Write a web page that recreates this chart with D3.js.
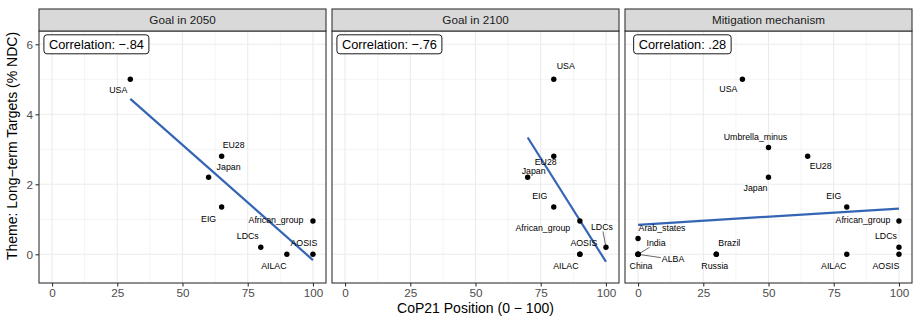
<!DOCTYPE html>
<html>
<head>
<meta charset="utf-8">
<script src="https://cdn.jsdelivr.net/npm/d3@7"></script>
<style>
  body { margin: 0; background: #fff; }
  text { font-family: "Liberation Sans", Arial, Helvetica, sans-serif; }
</style>
</head>
<body>
<svg id="chart"></svg>
<script>
// Data
var panelTitles = ["Goal in 2050", "Goal in 2100", "Mitigation mechanism"];
var corrLabels = ["Correlation: \u2212.84", "Correlation: \u2212.76", "Correlation: .28"];

var goal2050Names = ["USA", "EU28", "Japan", "EIG", "African_group", "LDCs", "AOSIS", "AILAC"];
var goal2050X = [30, 65, 60, 65, 100, 80, 100, 90];
var goal2050Y = [5, 2.8, 2.2, 1.35, 0.95, 0.2, 0, 0];

var goal2100Names = ["USA", "EU28", "Japan", "EIG", "African_group", "LDCs", "AOSIS", "AILAC"];
var goal2100X = [80, 80, 70, 80, 90, 100, 90, 90];
var goal2100Y = [5, 2.8, 2.2, 1.35, 0.95, 0.2, 0, 0];

var mitigationNames = ["USA", "Umbrella_minus", "EU28", "Japan", "EIG", "African_group", "LDCs", "AOSIS",
                       "AILAC", "Arab_states", "India", "ALBA", "China", "Brazil", "Russia"];
var mitigationX = [40, 50, 65, 50, 80, 100, 100, 100, 80, 0, 0, 0, 0, 30, 30];
var mitigationY = [5, 3.05, 2.8, 2.2, 1.35, 0.95, 0.2, 0, 0, 0.45, 0, 0, 0, 0, 0];

var xTicks = [0, 25, 50, 75, 100];
var xMinor = [12.5, 37.5, 62.5, 87.5];
var yTicks = [0, 2, 4, 6];
var yMinor = [1, 3, 5];

var panelData = [
  {names: goal2050Names, x: goal2050X, y: goal2050Y},
  {names: goal2100Names, x: goal2100X, y: goal2100Y},
  {names: mitigationNames, x: mitigationX, y: mitigationY}
];

// label nudges (px) per panel, like ggrepel placed them; third value = draw segment
var labelNudge = [
  {USA: [-12, 11], EU28: [12, -11], Japan: [20, -10], EIG: [-13, 12], African_group: [-37, -1],
   LDCs: [-13, -11], AOSIS: [-9, -11], AILAC: [-13, 12]},
  {USA: [12, -13], EU28: [-8, 6], Japan: [6, -6], EIG: [-14, -11], African_group: [-37, 7],
   LDCs: [-4, -20, 1], AOSIS: [4, -11], AILAC: [-14, 12]},
  {USA: [-14, 10], Umbrella_minus: [-13, -11], EU28: [13, 10], Japan: [-13, 11], EIG: [-13, -11],
   African_group: [-36, -1], LDCs: [-13, -11], AOSIS: [-13, 12], AILAC: [-13, 12],
   Arab_states: [24, -11], India: [18, -11, 1], ALBA: [35, 5, 1], China: [3, 12],
   Brazil: [13, -11], Russia: [-1.5, 12]}
];

//Canvas setting
var svg = d3.select("#chart");
svg.width = 914;
svg.height = 320;
svg.attr("width", svg.width).attr("height", svg.height);

var panel = {left: 39, width: 287, gap: 6, stripTop: 9, top: 31, bottom: 283};

var yscale = d3.scaleLinear().domain([-0.82, 6.38]).range([panel.bottom, panel.top]);

var lineBlue = "#3465b4";

panelData.forEach(function(pd, i) {
  var x0 = panel.left + i * (panel.width + panel.gap);
  var xscale = d3.scaleLinear().domain([-5, 105]).range([x0, x0 + panel.width]);
  var g = svg.append("g").attr("class", "panel" + i);

  // background + grid
  g.append("rect").attr("x", x0).attr("y", panel.top)
   .attr("width", panel.width).attr("height", panel.bottom - panel.top).attr("fill", "#fff");

  g.selectAll(".xminor").data(xMinor).enter().append("line")
   .attr("x1", function(d){ return xscale(d); }).attr("x2", function(d){ return xscale(d); })
   .attr("y1", panel.top).attr("y2", panel.bottom)
   .attr("stroke", "#ebebeb").attr("stroke-width", 0.55);
  g.selectAll(".yminor").data(yMinor).enter().append("line")
   .attr("y1", function(d){ return yscale(d); }).attr("y2", function(d){ return yscale(d); })
   .attr("x1", x0).attr("x2", x0 + panel.width)
   .attr("stroke", "#ebebeb").attr("stroke-width", 0.55);
  g.selectAll(".xmajor").data(xTicks).enter().append("line")
   .attr("x1", function(d){ return xscale(d); }).attr("x2", function(d){ return xscale(d); })
   .attr("y1", panel.top).attr("y2", panel.bottom)
   .attr("stroke", "#ebebeb").attr("stroke-width", 1.1);
  g.selectAll(".ymajor").data(yTicks).enter().append("line")
   .attr("y1", function(d){ return yscale(d); }).attr("y2", function(d){ return yscale(d); })
   .attr("x1", x0).attr("x2", x0 + panel.width)
   .attr("stroke", "#ebebeb").attr("stroke-width", 1.1);

  // regression line (least squares)
  var mx = d3.mean(pd.x), my = d3.mean(pd.y);
  var sxy = d3.sum(pd.x, function(d, k){ return (d - mx) * (pd.y[k] - my); });
  var sxx = d3.sum(pd.x, function(d){ return (d - mx) * (d - mx); });
  var slope = sxy / sxx, icpt = my - slope * mx;
  var ext = d3.extent(pd.x);
  g.append("line")
   .attr("x1", xscale(ext[0])).attr("y1", yscale(icpt + slope * ext[0]))
   .attr("x2", xscale(ext[1])).attr("y2", yscale(icpt + slope * ext[1]))
   .attr("stroke", lineBlue).attr("stroke-width", 2.2);

  // labels + segments
  var pts = pd.names.map(function(n, k){ return {name: n, x: pd.x[k], y: pd.y[k]}; });
  var labels = g.selectAll(".lab").data(pts).enter().append("text")
   .attr("class", "lab")
   .attr("x", function(d){ return xscale(d.x) + labelNudge[i][d.name][0]; })
   .attr("y", function(d){ return yscale(d.y) + labelNudge[i][d.name][1]; })
   .attr("dy", "0.35em")
   .attr("text-anchor", "middle")
   .attr("font-size", "8.8px")
   .attr("fill", "#000")
   .text(function(d){ return d.name; });

  labels.each(function(d) {
    var nud = labelNudge[i][d.name];
    if (!nud[2]) return;
    var bb = this.getBBox();
    var px = xscale(d.x), py = yscale(d.y);
    var cx = bb.x + bb.width / 2, cy = bb.y + bb.height / 2;
    // clip to label box edge
    var dx = px - cx, dy = py - cy;
    var hw = bb.width / 2 + 1, hh = bb.height / 2 - 1;
    var t = Math.min(Math.abs(dx) > 0 ? hw / Math.abs(dx) : 1e9, Math.abs(dy) > 0 ? hh / Math.abs(dy) : 1e9);
    g.append("line")
     .attr("x1", px).attr("y1", py)
     .attr("x2", cx + dx * t).attr("y2", cy + dy * t)
     .attr("stroke", "#000").attr("stroke-width", 0.6);
  });

  // points
  g.selectAll(".pt").data(pts).enter().append("circle")
   .attr("class", "pt")
   .attr("cx", function(d){ return xscale(d.x); })
   .attr("cy", function(d){ return yscale(d.y); })
   .attr("r", 2.7)
   .attr("fill", "#000");

  // correlation label
  var cl = g.append("g");
  var ct = cl.append("text")
   .attr("x", xscale(17)).attr("y", yscale(6)).attr("dy", "0.36em")
   .attr("text-anchor", "middle").attr("font-size", "12.8px").attr("fill", "#000")
   .text(corrLabels[i]);
  var cw = ct.node().getComputedTextLength();
  cl.insert("rect", "text")
   .attr("x", xscale(17) - cw / 2 - 5).attr("y", yscale(6) - 9.5)
   .attr("width", cw + 10).attr("height", 19)
   .attr("rx", 3).attr("fill", "#fff").attr("stroke", "#000").attr("stroke-width", 0.9);

  // panel border
  g.append("rect").attr("x", x0).attr("y", panel.top)
   .attr("width", panel.width).attr("height", panel.bottom - panel.top)
   .attr("fill", "none").attr("stroke", "#333").attr("stroke-width", 1.1);

  // strip
  g.append("rect").attr("x", x0).attr("y", panel.stripTop)
   .attr("width", panel.width).attr("height", panel.top - panel.stripTop)
   .attr("fill", "#d9d9d9").attr("stroke", "#333").attr("stroke-width", 1.1);
  g.append("text")
   .attr("x", x0 + panel.width / 2).attr("y", (panel.stripTop + panel.top) / 2).attr("dy", "0.35em")
   .attr("text-anchor", "middle").attr("font-size", "11.7px").attr("fill", "#1a1a1a")
   .text(panelTitles[i]);

  // x axis
  var xa = g.append("g").attr("transform", "translate(0," + panel.bottom + ")")
   .call(d3.axisBottom(xscale).tickValues(xTicks).tickSize(3.5).tickPadding(2.5));
  xa.select(".domain").remove();
  xa.selectAll(".tick line").attr("stroke", "#333").attr("stroke-width", 1.1);
  xa.selectAll(".tick text").attr("fill", "#4d4d4d").attr("font-size", "11.7px")
    .style("font-family", "'Liberation Sans', Arial, sans-serif");

  if (i === 0) {
    var ya = g.append("g").attr("transform", "translate(" + x0 + ",0)")
     .call(d3.axisLeft(yscale).tickValues(yTicks).tickSize(3.5).tickPadding(2.5));
    ya.select(".domain").remove();
    ya.selectAll(".tick line").attr("stroke", "#333").attr("stroke-width", 1.1);
    ya.selectAll(".tick text").attr("fill", "#4d4d4d").attr("font-size", "11.7px")
      .style("font-family", "'Liberation Sans', Arial, sans-serif");
  }
});

// axis titles
svg.append("text")
  .attr("x", panel.left + (3 * panel.width + 2 * panel.gap) / 2).attr("y", 313)
  .attr("text-anchor", "middle").attr("font-size", "14px").attr("fill", "#000")
  .text("CoP21 Position (0 \u2212 100)");
svg.append("text")
  .attr("transform", "translate(17," + ((panel.stripTop + panel.bottom) / 2) + ") rotate(-90)")
  .attr("text-anchor", "middle").attr("font-size", "14px").attr("fill", "#000")
  .text("Theme: Long\u2212term Targets (% NDC)");
</script>
</body>
</html>
